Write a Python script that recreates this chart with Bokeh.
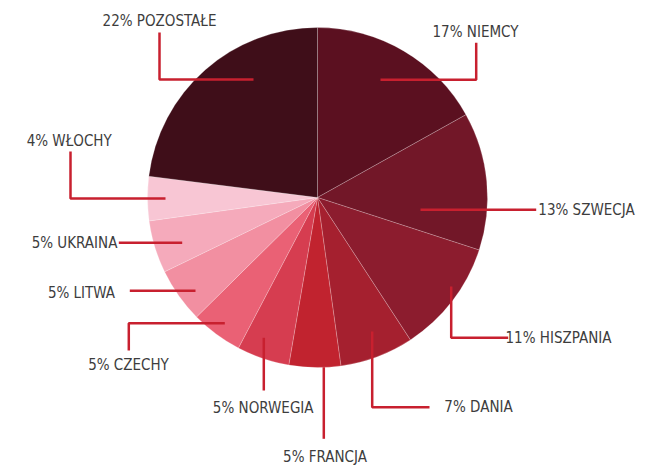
import math
from bokeh.plotting import figure
from bokeh.models import Range1d, ColumnDataSource
from bokeh.core.properties import value
from bokeh.embed import file_html
from bokeh.resources import INLINE

# ---- data (clockwise from 12 o'clock) ----
countries = ["NIEMCY", "SZWECJA", "HISZPANIA", "DANIA", "FRANCJA", "NORWEGIA",
             "CZECHY", "LITWA", "UKRAINA", "WŁOCHY", "POZOSTAŁE"]
label_pct = [17, 13, 11, 7, 5, 5, 5, 5, 5, 4, 22]
shares = [16.9, 13.1, 10.8, 7.0, 4.9, 5.0, 4.9, 5.2, 5.0, 4.2, 23.0]
colors = ["#5b1020", "#721728", "#8c1c2e", "#a5202f", "#c1232f", "#d63d50",
          "#ea6175", "#f28fa1", "#f5aabb", "#f8c6d4", "#3f0e19"]

# ---- layout (picture pixel coordinates, converted below) ----
W, H = 659, 467
CX, CY, R = 317, 197, 170
label_pos = [(475, 31), (586, 209), (558, 337), (478, 406), (324.5, 456.5),
             (262.7, 407), (128, 364.5), (81, 292), (74, 242.5), (68.7, 140), (159, 20)]
leaders = [
    [(380, 79.3), (475.7, 79.3), (475.7, 42.3)],
    [(420, 209.3), (535.7, 209.3)],
    [(450.7, 286), (450.7, 337.3), (507.7, 337.3)],
    [(371.7, 331), (371.7, 406.7), (429, 406.7)],
    [(323.3, 366.7), (323.3, 438.3)],
    [(263.3, 337.3), (263.3, 390)],
    [(224.3, 322.7), (128.3, 322.7), (128.3, 350)],
    [(195, 290.3), (129.3, 290.3)],
    [(181.7, 242.3), (118.3, 242.3)],
    [(165, 198), (70, 198), (70, 151)],
    [(253, 79), (159, 79), (159, 32)],
]

def tx(px):
    return px

def ty(py):
    return H - py

p = figure(width=W, height=H, output_backend="svg", toolbar_location=None,
           x_range=Range1d(0, W), y_range=Range1d(0, H), min_border=0,
           outline_line_color=None, background_fill_color="white",
           border_fill_color="white")
p.axis.visible = False
p.grid.visible = False

total = sum(shares)
starts, ends = [], []
cum = 0.0
for s in shares:
    a0 = math.pi / 2 - 2 * math.pi * cum / total
    cum += s
    a1 = math.pi / 2 - 2 * math.pi * cum / total
    starts.append(a1)
    ends.append(a0)

src = ColumnDataSource(dict(start=starts, end=ends, color=colors,
                            x=[tx(CX)] * len(shares), y=[ty(CY)] * len(shares)))
p.wedge(x="x", y="y", radius=R, start_angle="start", end_angle="end",
        direction="anticlock", fill_color="color", line_color="white",
        line_alpha=0.35, line_width=0.6, source=src)

p.multi_line(xs=[[tx(a) for a, b in seg] for seg in leaders],
             ys=[[ty(b) for a, b in seg] for seg in leaders],
             line_color="#c8202f", line_width=2.5)

texts = [f"{v}% {c}" for v, c in zip(label_pct, countries)]
p.text(x=[tx(a) for a, b in label_pos], y=[ty(b) for a, b in label_pos], text=texts,
       text_align="center", text_baseline="middle",
       text_font=value("DejaVu Sans Condensed"),
       text_font_size="15px", text_color="#3d3d3d")

open("out.html", "w").write(file_html(p, INLINE))
